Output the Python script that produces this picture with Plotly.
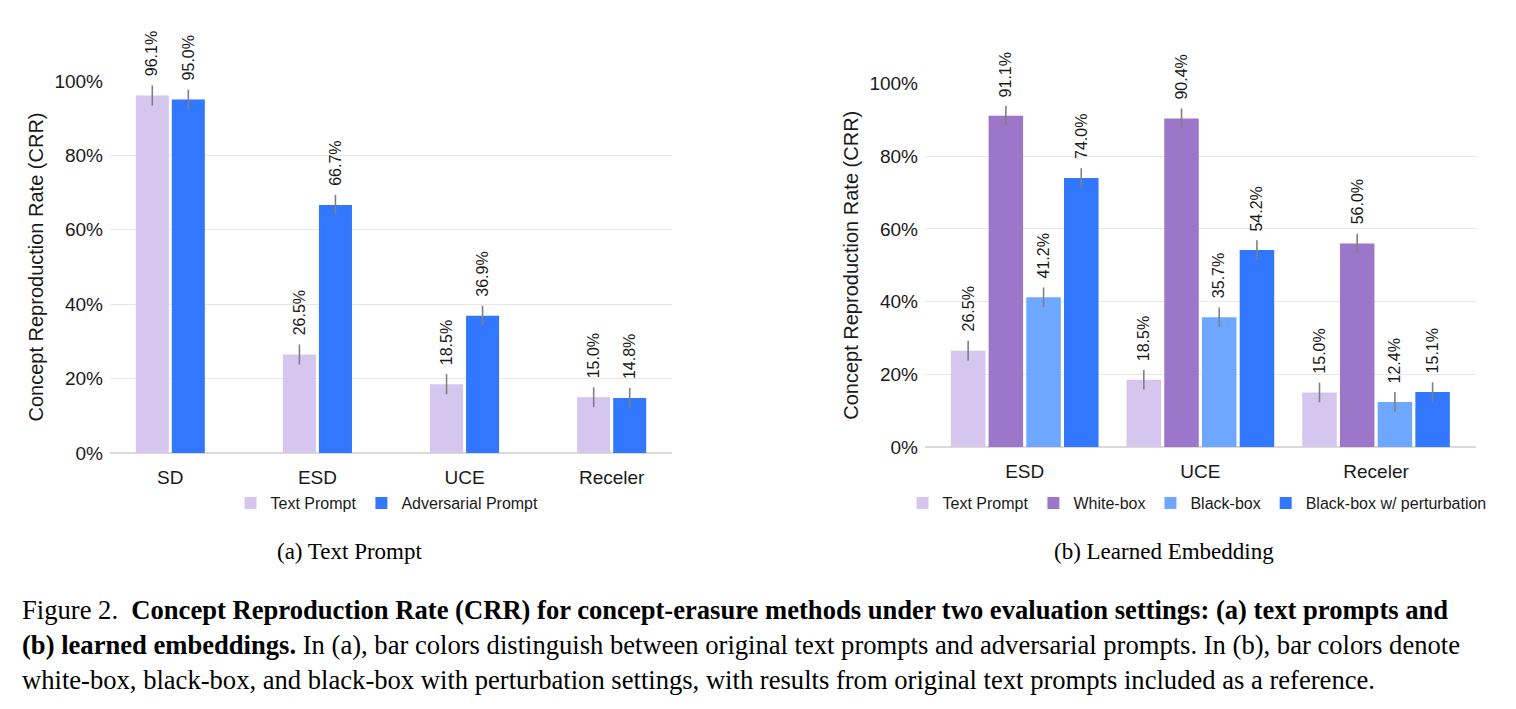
import plotly.graph_objects as go

W, H = 1516, 709

# ---------------- data ----------------
cats_a = ["SD", "ESD", "UCE", "Receler"]
text_prompt_a = [96.1, 26.5, 18.5, 15.0]
adversarial_a = [95.0, 66.7, 36.9, 14.8]
err_text_a = [2.7, 2.7, 2.7, 2.7]
err_adv_a = [2.7, 2.7, 2.7, 2.7]

cats_b = ["ESD", "UCE", "Receler"]
text_prompt_b = [26.5, 18.5, 15.0]
white_box_b = [91.1, 90.4, 56.0]
black_box_b = [41.2, 35.7, 12.4]
black_box_pert_b = [74.0, 54.2, 15.1]
err_text_b = [2.7, 2.7, 2.7]
err_white_b = [2.7, 2.7, 2.7]
err_black_b = [2.7, 2.7, 2.7]
err_pert_b = [2.7, 2.7, 2.7]

y_ticks = [0, 20, 40, 60, 80, 100]
y_tick_labels = ["0%", "20%", "40%", "60%", "80%", "100%"]

# ---------------- style ----------------
C_TEXT = "#d5c5ef"
C_WHITE = "#9c76c9"
C_BLACK = "#6ea7ff"
C_PERT = "#3177ff"
ERR_C = "#808080"
FONT = "Liberation Sans, Arial, sans-serif"
SERIF = "Liberation Serif, Times New Roman, serif"
INK = "#1a1a1a"

fig = go.Figure()


def add_panel(cats, series, xa, ya, legend, bar_w, gap):
    n = len(series)
    extent = n * bar_w + (n - 1) * gap
    xs = list(range(len(cats)))
    anns = []
    for k, (name, vals, errs, color) in enumerate(series):
        off = -extent / 2 + k * (bar_w + gap)
        fig.add_trace(go.Bar(
            x=xs, y=vals, name=name, xaxis=xa, yaxis=ya, legend=legend,
            width=bar_w, offset=off,
            marker=dict(color=color, line=dict(width=0)),
            error_y=dict(type="data", array=errs, visible=True,
                         color=ERR_C, thickness=1.6, width=0),
        ))
        for i, (v, e) in enumerate(zip(vals, errs)):
            anns.append(dict(
                x=i + off + bar_w / 2, y=v + e, xref=xa, yref=ya,
                text=f"{v:.1f}%", showarrow=False, textangle=-90,
                xanchor="center", yanchor="bottom", yshift=7,
                font=dict(family=FONT, size=16, color=INK),
            ))
    return anns


anns = []
anns += add_panel(
    cats_a,
    [("Text Prompt", text_prompt_a, err_text_a, C_TEXT),
     ("Adversarial Prompt", adversarial_a, err_adv_a, C_PERT)],
    "x", "y", "legend", 33 / 147, 3 / 147)
anns += add_panel(
    cats_b,
    [("Text Prompt", text_prompt_b, err_text_b, C_TEXT),
     ("White-box", white_box_b, err_white_b, C_WHITE),
     ("Black-box", black_box_b, err_black_b, C_BLACK),
     ("Black-box w/ perturbation", black_box_pert_b, err_pert_b, C_PERT)],
    "x2", "y2", "legend2", 34.5 / 175.65, 3.2 / 175.65)


def px_x(p):
    return p / W


def px_y(p):
    return (H - p) / H


axis_common = dict(showline=False, ticks="", automargin=False,
                   tickfont=dict(family=FONT, size=19, color=INK))
yaxis_common = dict(
    range=[0, 100], tickvals=y_ticks, ticktext=y_tick_labels,
    showgrid=True, gridcolor="#e7e7e7", gridwidth=1.3,
    zeroline=True, zerolinecolor="#dadada", zerolinewidth=1.6,
    showline=False, ticks="", ticklabelstandoff=6, automargin=False,
    tickfont=dict(family=FONT, size=19, color=INK),
    title=dict(text="Concept Reproduction Rate (CRR)", standoff=5,
               font=dict(family=FONT, size=20, color=INK)),
)

fig.update_layout(
    width=W, height=H,
    margin=dict(l=0, r=0, t=0, b=0, pad=0, autoexpand=False),
    paper_bgcolor="white", plot_bgcolor="white",
    barmode="overlay", showlegend=True,
    xaxis=dict(domain=[px_x(110), px_x(672)], range=[-0.41, 3.41],
               tickvals=list(range(len(cats_a))), ticktext=cats_a,
               showgrid=False, zeroline=False, anchor="y",
               ticklabelstandoff=11, **axis_common),
    yaxis=dict(domain=[px_y(453), px_y(81)], anchor="x", **yaxis_common),
    xaxis2=dict(domain=[px_x(925), px_x(1476)], range=[-0.5676, 2.569],
                tickvals=list(range(len(cats_b))), ticktext=cats_b,
                showgrid=False, zeroline=False, anchor="y2",
                ticklabelstandoff=11, **axis_common),
    yaxis2=dict(domain=[px_y(447), px_y(83.5)], anchor="x2", **yaxis_common),
    legend=dict(orientation="h", x=px_x(387), xanchor="center",
                y=px_y(503), yanchor="middle",
                font=dict(family=FONT, size=16, color=INK),
                bgcolor="rgba(0,0,0,0)", itemclick=False),
    legend2=dict(orientation="h", x=px_x(1197), xanchor="center",
                 y=px_y(503), yanchor="middle",
                 font=dict(family=FONT, size=16, color=INK),
                 bgcolor="rgba(0,0,0,0)", itemclick=False),
)

# sub captions
anns.append(dict(x=px_x(349.5), y=px_y(551), xref="paper", yref="paper",
                 text="(a) Text Prompt", showarrow=False,
                 xanchor="center", yanchor="middle",
                 font=dict(family=SERIF, size=23, color="black")))
anns.append(dict(x=px_x(1164), y=px_y(551), xref="paper", yref="paper",
                 text="(b) Learned Embedding", showarrow=False,
                 xanchor="center", yanchor="middle",
                 font=dict(family=SERIF, size=23, color="black")))

caption_lines = [
    "Figure 2.  <b>Concept Reproduction Rate (CRR) for concept-erasure methods under two evaluation settings: (a) text prompts and</b>",
    "<b>(b) learned embeddings.</b> In (a), bar colors distinguish between original text prompts and adversarial prompts. In (b), bar colors denote",
    "white-box, black-box, and black-box with perturbation settings, with results from original text prompts included as a reference.",
]
for j, line in enumerate(caption_lines):
    anns.append(dict(x=px_x(20), y=px_y(610 + 35 * j), xref="paper", yref="paper",
                     text=line, showarrow=False, xanchor="left", yanchor="middle",
                     font=dict(family=SERIF, size=26.6, color="black")))

fig.update_layout(annotations=anns)
fig.write_html("out.html")
